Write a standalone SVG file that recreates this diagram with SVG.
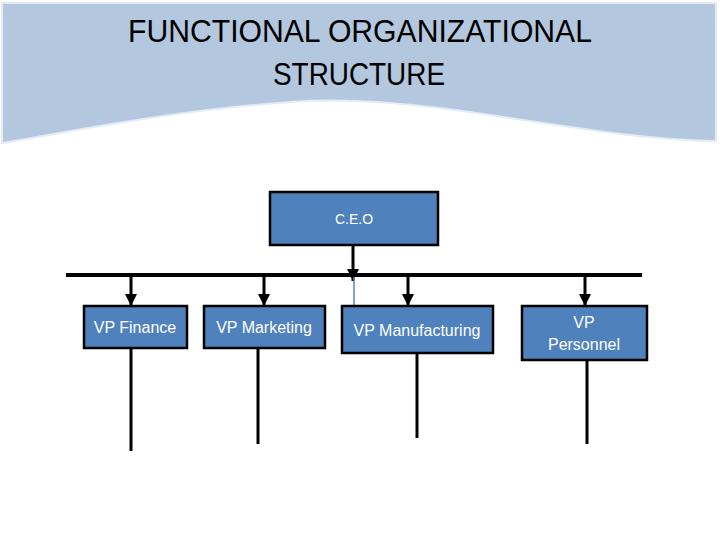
<svg xmlns="http://www.w3.org/2000/svg" width="720" height="540" viewBox="0 0 720 540">
<defs>
<style>
.node rect{fill:#4f81bd;stroke:#000;stroke-width:2.5}
.node text{fill:#fff;font-family:"Liberation Sans","DejaVu Sans",sans-serif;font-size:16px;text-anchor:middle}
.title{fill:#000;font-family:"Liberation Sans","DejaVu Sans",sans-serif;font-size:32px;text-anchor:middle}
.ln{stroke:#000;stroke-width:3;fill:none}
</style>
<marker id="ah" viewBox="0 0 10 10" refX="10" refY="5" markerWidth="4" markerHeight="4" markerUnits="strokeWidth" orient="auto">
<path d="M0,0 L10,5 L0,10 z" fill="#000"/>
</marker>
</defs>
<rect width="720" height="540" fill="#fff"/>
<g id="header">
<path d="M2,3 L716,3 L716,141 C640,140 560,125 470,112 C400,102 340,98 290,102 C180,110 90,128 2,143 Z" fill="#b3c7de" stroke="#e3ebf4" stroke-width="2"/>
<text class="title" x="360" y="42" textLength="464" lengthAdjust="spacingAndGlyphs">FUNCTIONAL ORGANIZATIONAL</text>
<text class="title" x="359" y="85" textLength="172" lengthAdjust="spacingAndGlyphs">STRUCTURE</text>
</g>
<g id="connectors">
<line x1="66" y1="275" x2="642" y2="275" stroke="#000" stroke-width="4"/>
<line class="ln" x1="353" y1="246" x2="353" y2="281" marker-end="url(#ah)"/>
<line x1="354" y1="277" x2="354" y2="306" stroke="#5b87b5" stroke-width="1.5"/>
<line class="ln" x1="131" y1="277" x2="131" y2="306" marker-end="url(#ah)"/>
<line class="ln" x1="264" y1="277" x2="264" y2="306" marker-end="url(#ah)"/>
<line class="ln" x1="408" y1="277" x2="408" y2="306" marker-end="url(#ah)"/>
<line class="ln" x1="585" y1="277" x2="585" y2="306" marker-end="url(#ah)"/>
<line class="ln" x1="131" y1="349" x2="131" y2="451"/>
<line class="ln" x1="258" y1="349" x2="258" y2="444"/>
<line class="ln" x1="417" y1="354" x2="417" y2="438"/>
<line class="ln" x1="587" y1="361" x2="587" y2="444"/>
</g>
<g id="ceo" class="node">
<rect x="270" y="192" width="168" height="53"/>
<text x="354" y="224" font-size="14" style="font-size:14px">C.E.O</text>
</g>
<g id="vp-finance" class="node">
<rect x="84" y="306" width="103" height="42"/>
<text x="135" y="333">VP Finance</text>
</g>
<g id="vp-marketing" class="node">
<rect x="204" y="306" width="121" height="42"/>
<text x="264" y="333">VP Marketing</text>
</g>
<g id="vp-manufacturing" class="node">
<rect x="342" y="306" width="151" height="47"/>
<text x="417" y="336">VP Manufacturing</text>
</g>
<g id="vp-personnel" class="node">
<rect x="522" y="306" width="125" height="54"/>
<text x="584" y="328">VP</text>
<text x="584" y="350">Personnel</text>
</g>
</svg>
